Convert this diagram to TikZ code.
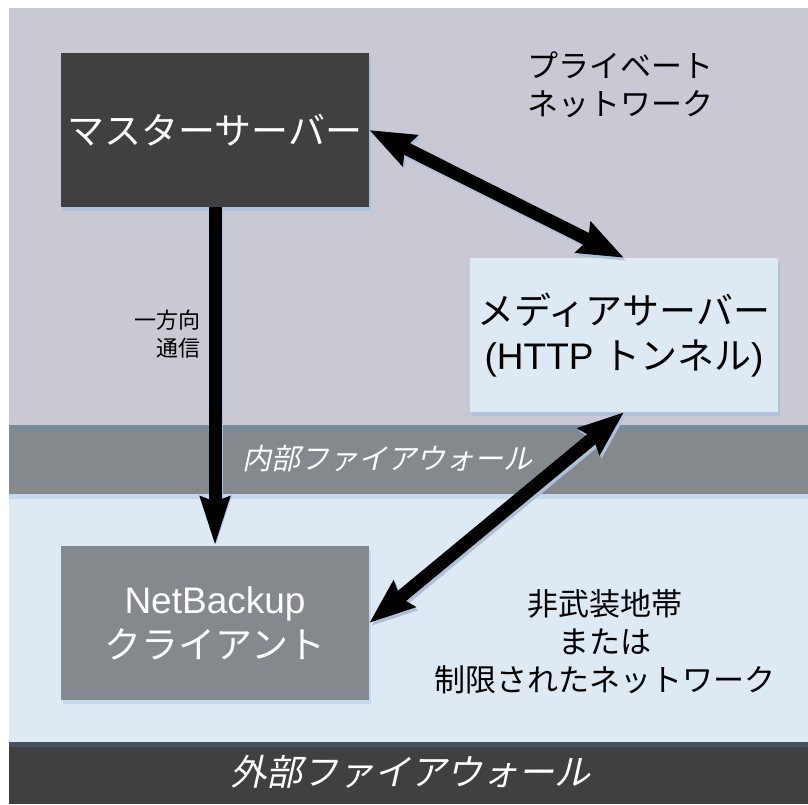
\documentclass[tikz,border=0pt]{standalone}
\usepackage{fontspec}
\setmainfont{Liberation Sans}
\newfontfamily\jp{Noto Sans CJK JP}
\newfontfamily\jpit[FakeSlant=0.22]{Noto Sans CJK JP}
\usetikzlibrary{arrows.meta, shadows}
\definecolor{privgrey}{HTML}{C9C9D4}
\definecolor{fwgrey}{HTML}{83898C}
\definecolor{fwedge}{HTML}{798A98}
\definecolor{dmzblue}{HTML}{DDE9F3}
\definecolor{dmzedge}{HTML}{C2D9EE}
\definecolor{darkbox}{HTML}{404040}
\definecolor{darkedge}{HTML}{46525D}
\definecolor{shadeblue}{HTML}{AEC1D9}

\begin{document}
\begin{tikzpicture}[x=1pt, y=-1pt]
  \tikzstyle{srv} = [minimum width=308pt, minimum height=154pt, inner sep=0pt, align=center,
    font=\jp\fontsize{37}{45}\selectfont, general shadow={fill=shadeblue, shadow xshift=2pt, shadow yshift=-4pt}]
  \tikzstyle{zone} = [align=center, font=\jp\fontsize{31}{38}\selectfont]
  \tikzstyle{link} = [line width=13pt, >={Stealth[length=45pt, width=33pt, inset=5pt]}]
  \useasboundingbox (0,0) rectangle (808,804);
  % zones
  \fill[privgrey] (9,8) rectangle (808,425);
  \fill[fwedge] (9,425) rectangle (808,431);
  \fill[fwgrey] (9,431) rectangle (808,494);
  \fill[dmzedge] (9,494) rectangle (808,499);
  \fill[dmzblue] (9,499) rectangle (808,742);
  \fill[darkedge] (9,742) rectangle (808,747);
  \fill[darkbox] (9,747) rectangle (808,804);
  \node[zone] (privnet) at (620,85) {プライベート\\ネットワーク};
  \node[zone] (dmz) at (605,642) {非武装地帯\\または\\制限されたネットワーク};
  \node[text=white, font=\jpit\fontsize{29}{34}\selectfont] (innerfw) at (387,458) {内部ファイアウォール};
  \node[text=white, font=\jpit\fontsize{36}{42}\selectfont] (outerfw) at (410,772) {外部ファイアウォール};
  % servers
  \node[srv, fill=darkbox, text=white] (master) at (215,130) {マスターサーバー};
  \node[srv, fill=dmzblue] (media) at (624,335) {メディアサーバー\\{\rmfamily (HTTP }トンネル{\rmfamily )}};
  \node[srv, fill=fwgrey, text=white, general shadow={fill=dmzedge, shadow xshift=2pt, shadow yshift=-4pt}] (client) at (215,623) {{\rmfamily NetBackup}\\クライアント};
  \node[anchor=east, align=right, font=\jp\fontsize{22}{28}\selectfont] (oneway) at (204,334) {一方向\\通信};
  % links
  \draw[link, <->, shadeblue, transform canvas={shift={(2,3)}}] (master.east) -- (media.north);
  \draw[link, <->, shadeblue, transform canvas={shift={(2,3)}}] (media.south) -- (client.east);
  \draw[link, ->, shadeblue, transform canvas={shift={(1,0)}}, >={Stealth[length=48pt, width=28pt, inset=4pt]}] (master.south) -- (client.north);
  \draw[link, <->] (master.east) -- (media.north);
  \draw[link, <->] (media.south) -- (client.east);
  \draw[link, ->, >={Stealth[length=48pt, width=28pt, inset=4pt]}] (master.south) -- (client.north);
\end{tikzpicture}
\end{document}
